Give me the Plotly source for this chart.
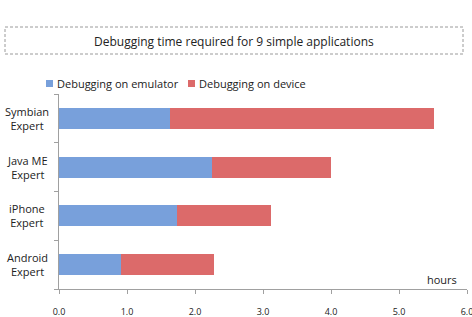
import plotly.graph_objects as go

categories = ["Android Expert", "iPhone Expert", "Java ME Expert", "Symbian Expert"]
category_labels = ["Android<br>Expert", "iPhone<br>Expert", "Java ME<br>Expert", "Symbian<br>Expert"]
emulator = [0.91, 1.74, 2.245, 1.63]
device = [1.37, 1.38, 1.755, 3.88]
x_ticks = [0, 1, 2, 3, 4, 5, 6]
x_tick_labels = ["0.0", "1.0", "2.0", "3.0", "4.0", "5.0", "6.0"]
series_names = ["Debugging on emulator", "Debugging on device"]
series_colors = ["#78a0db", "#dc6a6a"]
title = "Debugging time required for 9 simple applications"

FONT = "Open Sans"
W, H = 472, 317
L, R, T, B = 59, 5, 94, 28
pw, ph = W - L - R, H - T - B

def px(x):
    return (x - L) / pw

def py(y):
    return (H - B - y) / ph

fig = go.Figure()
for name, vals, col in zip(series_names, [emulator, device], series_colors):
    fig.add_trace(go.Bar(y=categories, x=vals, orientation="h", name=name,
                         marker=dict(color=col, line=dict(width=0))))

annotations = [
    dict(text=title, xref="paper", yref="paper", x=px(234), y=py(41), xanchor="center",
         yanchor="middle", showarrow=False, font=dict(size=12, family=FONT, color="#222222")),
    dict(text="hours", xref="paper", yref="paper", x=px(442), y=py(279), xanchor="center",
         yanchor="middle", showarrow=False, font=dict(size=11, family=FONT, color="#222222")),
]
for cat, lab in zip(categories, category_labels):
    annotations.append(dict(text=lab, xref="paper", yref="y", x=px(27), y=cat, xanchor="center",
                            yanchor="middle", align="center", showarrow=False,
                            font=dict(size=11, family=FONT, color="#222222")))

shapes = [dict(type="rect", xref="paper", yref="paper", x0=px(5), x1=px(463), y0=py(54), y1=py(27),
               line=dict(color="#9a9a9a", width=1, dash="3px,2px"), fillcolor="rgba(0,0,0,0)")]

# manual legend
legend_x = [46, 188]
for lx, name, col in zip(legend_x, series_names, series_colors):
    shapes.append(dict(type="rect", xref="paper", yref="paper", x0=px(lx), x1=px(lx + 7),
                       y0=py(87), y1=py(80), line=dict(width=0), fillcolor=col))
    annotations.append(dict(text=name, xref="paper", yref="paper", x=px(lx + 9), y=py(83.5),
                            xanchor="left", yanchor="middle", showarrow=False,
                            font=dict(size=11, family=FONT, color="#222222")))

fig.update_layout(
    width=W, height=H, barmode="stack", bargap=0.57,
    margin=dict(l=L, r=R, t=T, b=B, autoexpand=False),
    paper_bgcolor="white", plot_bgcolor="white",
    font=dict(family=FONT, color="#222222"),
    showlegend=False,
    xaxis=dict(range=[0, 6], tickvals=x_ticks, ticktext=x_tick_labels, showgrid=False,
               zeroline=False, showline=True, linecolor="#a0a0a0", linewidth=1, automargin=False,
               ticks="outside", ticklen=4, tickcolor="#a0a0a0", ticklabelstandoff=10,
               ticklabeloverflow="allow", tickfont=dict(size=9, family=FONT)),
    yaxis=dict(showgrid=False, zeroline=False, showline=True, linecolor="#a0a0a0", linewidth=1,
               ticks="outside", ticklen=4, tickcolor="#a0a0a0", tickson="boundaries", automargin=False,
               showticklabels=False, categoryorder="array", categoryarray=categories),
    shapes=shapes,
    annotations=annotations,
)

fig.write_html("out.html")
